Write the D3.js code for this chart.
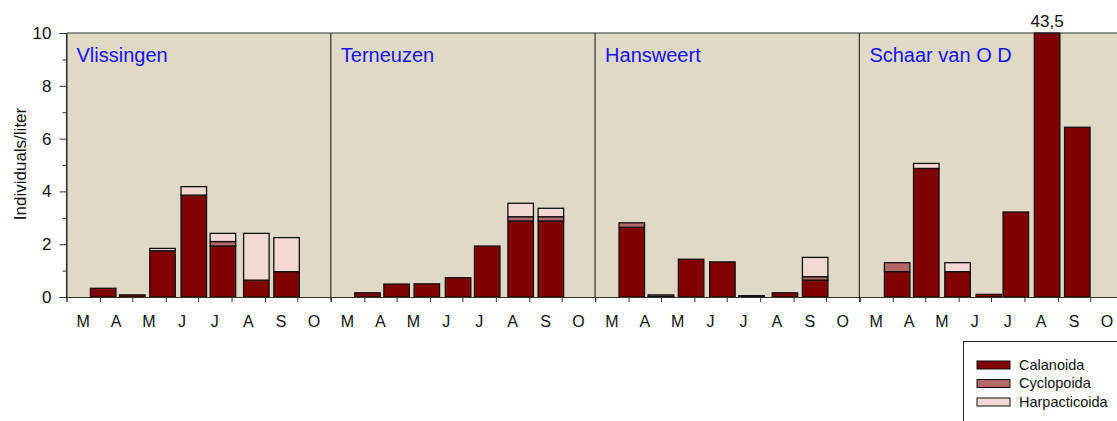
<!DOCTYPE html>
<html><head><meta charset="utf-8">
<script src="https://cdn.jsdelivr.net/npm/d3@7"></script>
<style>
html,body{margin:0;padding:0;background:#fff;}
svg{display:block;font-family:"Liberation Sans",Arial,sans-serif;}
</style></head>
<body>
<svg id="chart" width="1117" height="421"></svg>
<script>
// ---------- data ----------
const stations = ["Vlissingen", "Terneuzen", "Hansweert", "Schaar van O D"];
const monthLabels = ["M", "A", "M", "J", "J", "A", "S", "O"];
const seriesNames = ["Calanoida", "Cyclopoida", "Harpacticoida"];
const seriesColors = ["#800000", "#b46868", "#f3d8d4"];
const yTicks = [0, 2, 4, 6, 8, 10];

const datesVlissingen = ["2000-04-04", "2000-05-01", "2000-05-29", "2000-06-27", "2000-07-24", "2000-08-24", "2000-09-21"];
const datesTerneuzen  = ["2000-04-04", "2000-05-01", "2000-05-29", "2000-06-27", "2000-07-24", "2000-08-24", "2000-09-21"];
const datesHansweert  = ["2000-04-04", "2000-05-01", "2000-05-29", "2000-06-27", "2000-07-24", "2000-08-24", "2000-09-21"];
const datesSchaar     = ["2000-04-05", "2000-05-02", "2000-05-31", "2000-06-29", "2000-07-24", "2000-08-22", "2000-09-19"];

const calanoidaVlissingen = [0.33, 0.08, 1.75, 3.86, 1.93, 0.64, 0.96];
const cyclopoidaVlissingen = [0, 0, 0, 0, 0.17, 0, 0];
const harpacticoidaVlissingen = [0, 0, 0.09, 0.32, 0.31, 1.77, 1.29];

const calanoidaTerneuzen = [0.16, 0.49, 0.5, 0.73, 1.93, 2.88, 2.88];
const cyclopoidaTerneuzen = [0, 0, 0, 0, 0, 0.16, 0.16];
const harpacticoidaTerneuzen = [0, 0, 0, 0, 0, 0.51, 0.32];

const calanoidaHansweert = [2.64, 0.02, 1.43, 1.33, 0.05, 0.16, 0.64];
const cyclopoidaHansweert = [0.17, 0.06, 0, 0, 0, 0, 0.13];
const harpacticoidaHansweert = [0, 0, 0, 0, 0, 0, 0.73];

const calanoidaSchaar = [0.96, 4.87, 0.96, 0.1, 3.22, 43.5, 6.43];
const cyclopoidaSchaar = [0.34, 0, 0, 0, 0, 0, 0];
const harpacticoidaSchaar = [0, 0.19, 0.34, 0, 0, 0, 0];

const stationDates = [datesVlissingen, datesTerneuzen, datesHansweert, datesSchaar];
const stationSeries = [
  [calanoidaVlissingen, cyclopoidaVlissingen, harpacticoidaVlissingen],
  [calanoidaTerneuzen, cyclopoidaTerneuzen, harpacticoidaTerneuzen],
  [calanoidaHansweert, cyclopoidaHansweert, harpacticoidaHansweert],
  [calanoidaSchaar, cyclopoidaSchaar, harpacticoidaSchaar]
];

// ---------- layout ----------
const svg = d3.select("#chart");
const mLeft = 66.5, mTop = 33, mBottom = 297;
const panelW = 264.3;
const barW = 25.5;
const axisColor = "#333";
const textColor = "#111";

const y = d3.scaleLinear().domain([0, 10]).range([mBottom, mTop]).clamp(true);
const x = d3.scaleTime()
  .domain([new Date(2000, 2, 1), new Date(2000, 10, 1)])
  .range([0, panelW]);
const parse = d3.timeParse("%Y-%m-%d");

// background
svg.append("rect").attr("x", mLeft).attr("y", mTop)
  .attr("width", panelW * 4).attr("height", mBottom - mTop)
  .attr("fill", "#dfd9c5");

stations.forEach((name, si) => {
  const g = svg.append("g").attr("transform", `translate(${mLeft + si * panelW},0)`);
  const dates = stationDates[si].map(parse);
  const series = stationSeries[si];
  const rows = dates.map((d, i) => {
    const r = { date: d };
    seriesNames.forEach((s, k) => r[s] = series[k][i]);
    return r;
  });
  const stacked = d3.stack().keys(seriesNames)(rows);
  stacked.forEach((layer, k) => {
    g.selectAll(null).data(layer.filter(d => d[1] - d[0] > 0)).enter().append("rect")
      .attr("x", d => x(d.data.date) - barW / 2)
      .attr("y", d => y(d[1]))
      .attr("width", barW)
      .attr("height", d => Math.max(0.5, y(d[0]) - y(d[1])))
      .attr("fill", seriesColors[k])
      .attr("stroke", "#111")
      .attr("stroke-width", 1.3);
  });
  // value label for clipped bar
  rows.forEach(r => {
    const tot = seriesNames.reduce((a, s) => a + r[s], 0);
    if (tot > 10) {
      g.append("text").attr("x", x(r.date)).attr("y", 26.5)
        .attr("text-anchor", "middle").attr("font-size", 17).attr("fill", textColor)
        .text(String(tot).replace(".", ","));
    }
  });
  // x axis ticks (month boundaries)
  const xAxis = d3.axisBottom(x).ticks(d3.timeMonth.every(1)).tickSize(5).tickFormat("");
  const ax = g.append("g").attr("transform", `translate(0,${mBottom})`).call(xAxis);
  ax.select(".domain").attr("stroke", axisColor);
  ax.selectAll(".tick line").attr("stroke", axisColor);
  // month labels centred in month
  const months = d3.timeMonth.range(new Date(2000, 2, 1), new Date(2000, 10, 1));
  g.selectAll(null).data(months).enter().append("text")
    .attr("x", (d, i) => (x(d) + x(d3.timeMonth.offset(d, 1))) / 2)
    .attr("y", 326.5)
    .attr("text-anchor", "middle").attr("font-size", 16).attr("fill", textColor)
    .text((d, i) => monthLabels[i]);
  // divider line (left edge of panel)
  g.append("line").attr("x1", 0).attr("x2", 0).attr("y1", mTop).attr("y2", mBottom)
    .attr("stroke", axisColor).attr("stroke-width", 1.2);
  // station name
  g.append("text").attr("x", 10).attr("y", 61.5)
    .attr("font-size", 20).attr("fill", "#1212ff").text(name);
});

// top border
svg.append("line").attr("x1", mLeft).attr("x2", mLeft + panelW * 4)
  .attr("y1", mTop).attr("y2", mTop).attr("stroke", axisColor).attr("stroke-width", 1.2);
svg.append("line").attr("x1", mLeft + panelW * 4).attr("x2", mLeft + panelW * 4)
  .attr("y1", mTop).attr("y2", mBottom).attr("stroke", axisColor).attr("stroke-width", 1.2);

// y axis
const yAxis = d3.axisLeft(y).tickValues(yTicks).tickSize(7).tickPadding(8).tickFormat(d3.format("d"));
const yg = svg.append("g").attr("transform", `translate(${mLeft},0)`).call(yAxis);
yg.select(".domain").attr("stroke", axisColor);
yg.selectAll(".tick line").attr("stroke", axisColor);
yg.selectAll(".tick text").attr("font-size", 17).attr("fill", textColor).attr("font-family", "Liberation Sans, Arial, sans-serif");
const yMinor = d3.axisLeft(y).tickValues([1, 3, 5, 7, 9]).tickSize(4).tickFormat("");
const ym = svg.append("g").attr("transform", `translate(${mLeft},0)`).call(yMinor);
ym.select(".domain").remove();
ym.selectAll(".tick line").attr("stroke", axisColor);

svg.append("text").attr("transform", `translate(26,${(mTop + mBottom) / 2 - 1}) rotate(-90)`)
  .attr("text-anchor", "middle").attr("font-size", 17).attr("fill", textColor)
  .text("Individuals/liter");

// legend
const lg = svg.append("g");
lg.append("rect").attr("x", 963.5).attr("y", 341.5).attr("width", 170).attr("height", 100)
  .attr("fill", "#fff").attr("stroke", "#222").attr("stroke-width", 1);
seriesNames.forEach((s, i) => {
  lg.append("rect").attr("x", 977).attr("y", 361 + i * 18.5).attr("width", 33).attr("height", 8)
    .attr("fill", seriesColors[i]).attr("stroke", "#111").attr("stroke-width", 1);
  lg.append("text").attr("x", 1019).attr("y", 369.5 + i * 18.5)
    .attr("font-size", 14.5).attr("fill", textColor).text(s);
});
</script>
</body></html>
